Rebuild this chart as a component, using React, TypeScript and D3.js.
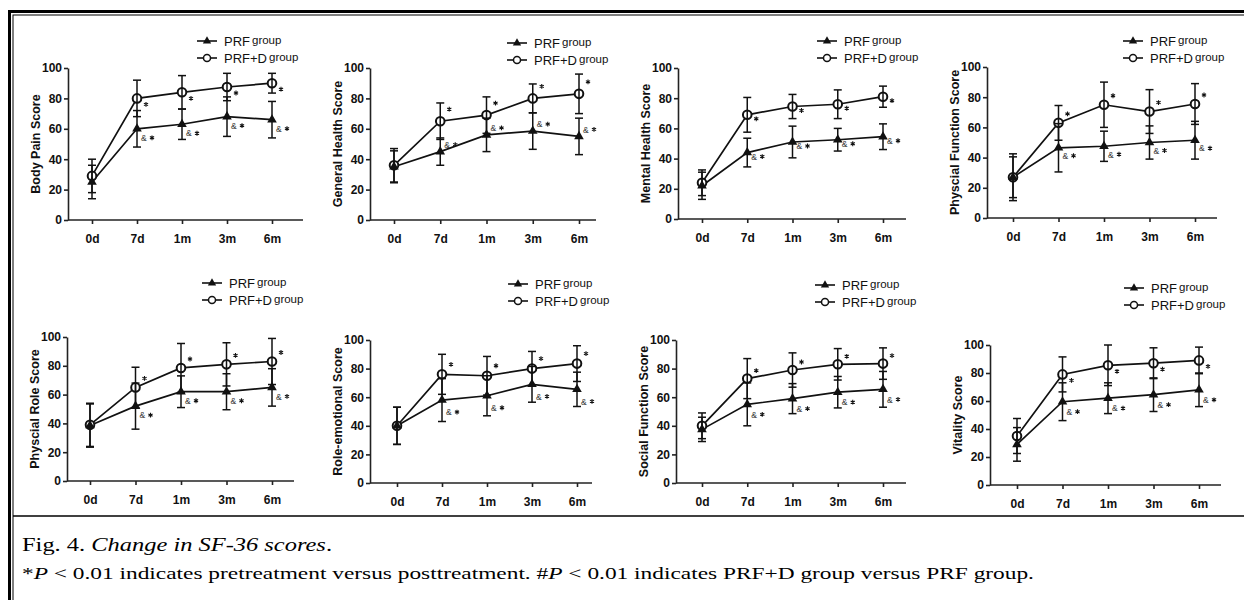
import React, { useEffect, useRef } from 'react'
import * as d3 from 'd3'

const timePoints = ['0d', '7d', '1m', '3m', '6m']
const yTicks = [0, 20, 40, 60, 80, 100]
const groupNames = ['PRF', 'PRF+D']
const scoreTitles = [
  'Body Pain Score',
  'General Health Score',
  'Mental Health Score',
  'Physcial Function Score',
  'Physcial Role Score',
  'Role-emotional Score',
  'Social Function Score',
  'Vitality Score',
]

// one row per panel
const prfMeans = [
  [25, 60, 63, 68, 66],
  [35, 45, 56, 58.5, 55],
  [22, 44, 51, 52.5, 54.5],
  [27, 46.5, 47.5, 50, 51.5],
  [38.5, 52, 62, 62, 65],
  [40, 58, 61, 69, 65.5],
  [37.5, 55, 59, 63.5, 65.5],
  [29, 59.5, 62, 64.5, 68],
]
const prfSds = [
  [11, 12, 10, 13, 12],
  [10.5, 9, 11, 12, 12],
  [9, 9.5, 10.5, 7.5, 8.5],
  [13.5, 16, 10, 11, 12.5],
  [15, 16, 11, 12.5, 13],
  [13, 15, 14, 12.5, 12],
  [8.5, 15, 10.5, 11, 12.5],
  [12, 13.5, 11, 12, 12],
]
const prfdMeans = [
  [29, 80, 84, 87.5, 90],
  [36, 65, 69, 80, 83],
  [24, 69, 74.5, 76, 81],
  [27, 63, 75, 70.5, 75.5],
  [39, 65, 78.5, 81, 83],
  [40, 76, 75, 80, 83.5],
  [40, 73, 79, 83, 83.5],
  [35, 79, 85.5, 87, 89],
]
const prfdSds = [
  [11, 12, 11, 9, 6.5],
  [11, 12, 12, 9.5, 13],
  [8.5, 11.5, 8, 9.5, 7],
  [15.5, 11.5, 15, 14.5, 13.5],
  [15, 14, 17, 15, 16],
  [13, 14, 13.5, 12, 12.5],
  [9, 14, 12, 11, 11],
  [12.5, 12.5, 14.5, 11, 9.5],
]

const captionTitle = 'Change in SF-36 scores'
const captionNote = [
  ['*', false], ['P', true], [' < 0.01 indicates pretreatment versus posttreatment. #', false],
  ['P', true], [' < 0.01 indicates PRF+D group versus PRF group.', false],
]

// where each panel sits on the page
const panels = [
  { left: 68, top: 68, bottom: 220, x0: 92, x6: 272, end: 303, legX: 197, legY: 41, starDy: 6, ampDy: 10 },
  { left: 370, top: 68, bottom: 220, x0: 394, x6: 579, end: 596, legX: 507, legY: 43, starDy: -12, ampDy: -6 },
  { left: 678, top: 68, bottom: 219, x0: 702, x6: 883, end: 906, legX: 817, legY: 41, starDy: 4, ampDy: 5 },
  { left: 987, top: 67, bottom: 218, x0: 1013, x6: 1195, end: 1217, legX: 1123, legY: 41, starDy: -9, ampDy: 9 },
  { left: 67, top: 337, bottom: 481, x0: 90, x6: 272, end: 294, legX: 202, legY: 283, starDy: -9, ampDy: 10 },
  { left: 370, top: 340, bottom: 483, x0: 397, x6: 577, end: 592, legX: 508, legY: 284, starDy: -10, ampDy: 13 },
  { left: 676, top: 340, bottom: 483, x0: 702, x6: 883, end: 906, legX: 815, legY: 285, starDy: -8, ampDy: 11 },
  { left: 990, top: 345, bottom: 485, x0: 1017, x6: 1199, end: 1221, legX: 1124, legY: 288, starDy: 6, ampDy: 11 },
]

const ink = '#111'
const sans = 'Liberation Sans, Arial, sans-serif'

const App = () => {
  const svgRef = useRef<SVGSVGElement | null>(null)

  useEffect(() => {
    const svg = d3.select(svgRef.current)
    svg.selectAll('*').remove()

    // double frame and caption separator
    svg.append('rect').attr('x', 9.5).attr('y', 11.5).attr('width', 1300).attr('height', 700)
      .attr('fill', 'none').attr('stroke', '#000').attr('stroke-width', 3)
    svg.append('rect').attr('x', 13).attr('y', 15).attr('width', 1300).attr('height', 700)
      .attr('fill', 'none').attr('stroke', '#000').attr('stroke-width', 1)
    svg.append('line').attr('x1', 13).attr('x2', 1244).attr('y1', 516).attr('y2', 516)
      .attr('stroke', '#000').attr('stroke-width', 1.6)

    const triangle = d3.symbol().type(d3.symbolTriangle)
    const asterisk = d3.symbol().type(d3.symbolAsterisk).size(16)

    const star = (g: any, cx: number, cy: number) =>
      g.append('path').attr('d', asterisk()).attr('transform', `translate(${cx},${cy})`)
        .attr('fill', 'none').attr('stroke', ink).attr('stroke-width', 1.1)

    panels.forEach((p, i) => {
      const g = svg.append('g')
      const x = d3.scalePoint<string>().domain(timePoints).range([p.x0, p.x6])
      const y = d3.scaleLinear().domain([0, 100]).range([p.bottom, p.top])

      const yAx = g.append('g').attr('transform', `translate(${p.left},0)`)
        .call(d3.axisLeft(y).tickValues(yTicks).tickSize(4).tickSizeOuter(0).tickPadding(2))
      const xAx = g.append('g').attr('transform', `translate(0,${p.bottom})`)
        .call(d3.axisBottom(x).tickSize(4).tickSizeOuter(0).tickPadding(10))
      xAx.select('.domain').attr('d', `M${p.left},0H${p.end}`)
      ;[yAx, xAx].forEach(ax => {
        ax.selectAll('path, line').attr('stroke', '#222').attr('stroke-width', 1.6)
        ax.selectAll('text').attr('fill', ink).attr('font-family', sans)
          .attr('font-weight', 'bold').attr('font-size', 12)
      })

      g.append('text') // y axis title
        .attr('transform', `translate(${p.left - 31},${(p.top + p.bottom) / 2}) rotate(-90)`)
        .attr('text-anchor', 'middle').attr('dominant-baseline', 'middle')
        .attr('font-family', sans).attr('font-weight', 'bold').attr('font-size', 12.5)
        .attr('fill', ink).text(scoreTitles[i])

      const line = d3.line<number>().x((d, j) => x(timePoints[j]) as number).y(d => y(d))
      const groups = [
        { means: prfMeans[i], sds: prfSds[i] },
        { means: prfdMeans[i], sds: prfdSds[i] },
      ]

      groups.forEach(s => {
        g.append('path').attr('d', line(s.means)).attr('fill', 'none')
          .attr('stroke', ink).attr('stroke-width', 1.7)
      })

      // circles first so the error bars run through them
      g.selectAll('.dot').data(prfdMeans[i]).enter().append('circle')
        .attr('cx', (d, j) => x(timePoints[j]) as number).attr('cy', d => y(d))
        .attr('r', 4.3).attr('fill', '#fff').attr('stroke', ink).attr('stroke-width', 2)

      groups.forEach(s => {
        s.means.forEach((m, j) => {
          const cx = x(timePoints[j]) as number
          const lo = y(m - s.sds[j])
          const hi = y(m + s.sds[j])
          g.append('line').attr('x1', cx).attr('x2', cx).attr('y1', lo).attr('y2', hi)
            .attr('stroke', ink).attr('stroke-width', 1.5)
          ;[lo, hi].forEach(cy => {
            g.append('line').attr('x1', cx - 4).attr('x2', cx + 4).attr('y1', cy).attr('y2', cy)
              .attr('stroke', ink).attr('stroke-width', 1.5)
          })
        })
      })

      g.selectAll('.tri').data(prfMeans[i]).enter().append('path')
        .attr('d', triangle.size(40)())
        .attr('transform', (d, j) => `translate(${x(timePoints[j])},${y(d)})`)
        .attr('fill', ink)

      // significance marks
      timePoints.slice(1).forEach((t, k) => {
        const cx = x(t) as number
        star(g, cx + 9, y(prfdMeans[i][k + 1]) + p.starDy)
        const ay = y(prfMeans[i][k + 1]) + p.ampDy
        g.append('text').attr('x', cx + 4).attr('y', ay)
          .attr('dominant-baseline', 'middle').attr('font-family', sans).attr('font-size', 8.5)
          .attr('fill', '#333').text('&')
        star(g, cx + 15, ay - 1)
      })

      // legend
      groupNames.forEach((name, k) => {
        const ly = p.legY + k * 17
        g.append('line').attr('x1', p.legX).attr('x2', p.legX + 20).attr('y1', ly).attr('y2', ly)
          .attr('stroke', ink).attr('stroke-width', 1.6)
        if (k === 0) {
          g.append('path').attr('d', triangle.size(30)())
            .attr('transform', `translate(${p.legX + 10},${ly})`).attr('fill', ink)
        } else {
          g.append('circle').attr('cx', p.legX + 10).attr('cy', ly).attr('r', 3.5)
            .attr('fill', '#fff').attr('stroke', ink).attr('stroke-width', 1.5)
        }
        const t = g.append('text').attr('x', p.legX + 27).attr('y', ly + 4.5)
          .attr('font-family', sans).attr('fill', ink)
        t.append('tspan').attr('font-size', 13).text(name)
        t.append('tspan').attr('font-size', 11.5).attr('dx', 2).attr('dy', -1.5).text('group')
      })
    })

    // caption
    const c1 = svg.append('text').attr('x', 22).attr('y', 551)
      .attr('font-family', 'Liberation Serif, Times New Roman, serif').attr('font-size', 19)
      .attr('fill', '#000').attr('textLength', 310).attr('lengthAdjust', 'spacingAndGlyphs')
    c1.append('tspan').text('Fig. 4. ')
    c1.append('tspan').attr('font-style', 'italic').text(captionTitle)
    c1.append('tspan').text('.')

    const c2 = svg.append('text').attr('x', 22).attr('y', 579)
      .attr('font-family', 'Liberation Serif, Times New Roman, serif').attr('font-size', 17.5)
      .attr('fill', '#000').attr('textLength', 1012).attr('lengthAdjust', 'spacingAndGlyphs')
    captionNote.forEach(([txt, it]) => {
      c2.append('tspan').attr('font-style', it ? 'italic' : 'normal').text(txt as string)
    })
  }, [])

  return (
    <svg
      ref={svgRef}
      width={1244}
      height={600}
      style={{ position: 'absolute', left: 0, top: 0, background: '#fff' }}
    />
  )
}

export default App
